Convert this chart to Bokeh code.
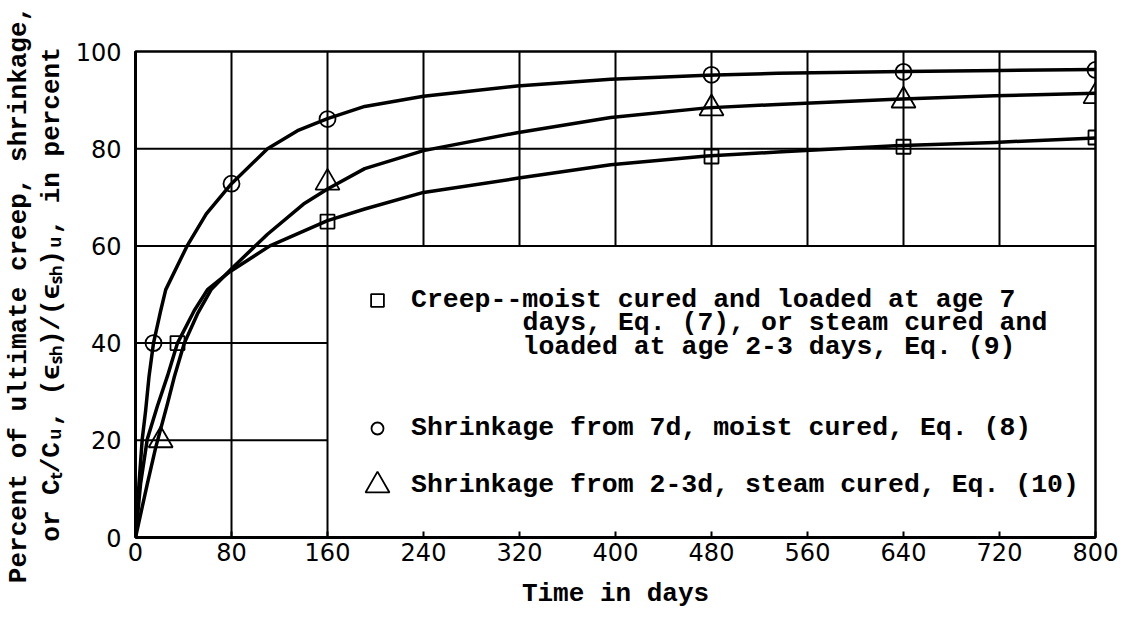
from bokeh.plotting import figure
from bokeh.models import Range1d, FixedTicker, Legend, LegendItem, Label
from bokeh.embed import file_html
from bokeh.resources import INLINE

# ---------------- data ----------------
x_ticks = [0, 80, 160, 240, 320, 400, 480, 560, 640, 720, 800]
y_ticks = [0, 20, 40, 60, 80, 100]

# Creep, Eq. (7) - square symbols
creep_curve_t = [0, 4.2, 9.8, 18.2, 26.6, 35, 49, 60, 78.6, 112, 160, 191, 240, 318, 396, 476, 535, 633, 716, 800]
creep_curve_v = [0, 11, 20.2, 27, 33.2, 40, 46.7, 51, 54.7, 60, 65.2, 67.6, 71, 73.9, 76.7, 78.5, 79.3, 80.6, 81.3, 82.2]
creep_pts_t = [35, 160, 480, 640, 800]
creep_pts_v = [40, 65, 78.4, 80.4, 82.3]

# Shrinkage from 7d, moist cured, Eq. (8) - circle symbols
moist_curve_t = [0, 2.9, 5.6, 8.4, 11.3, 15, 21, 25.2, 43, 59, 80, 110, 135, 160, 191, 240, 318, 396, 476, 535, 640, 720, 800]
moist_curve_v = [0, 11, 20.2, 26, 33.2, 40, 46.7, 51, 60, 66.6, 72.8, 80, 83.7, 86.2, 88.7, 90.8, 92.9, 94.3, 95.1, 95.5, 95.9, 96.1, 96.3]
moist_pts_t = [15, 80, 160, 480, 640, 800]
moist_pts_v = [40, 72.8, 86.1, 95.2, 95.8, 96.2]

# Shrinkage from 2-3d, steam cured, Eq. (10) - triangle symbols
steam_curve_t = [0, 9.8, 16.8, 26.6, 32.3, 40.7, 51.6, 63, 80, 110, 140, 160, 191, 240, 318, 396, 476, 535, 633, 716, 800]
steam_curve_v = [0, 11, 18.5, 27.5, 33, 40, 46, 51, 55.3, 62.4, 68.6, 71.7, 75.9, 79.6, 83.3, 86.4, 88.4, 89.1, 90.2, 90.9, 91.4]
steam_pts_t = [21, 160, 480, 640, 800]
steam_pts_v = [20, 73, 88.3, 89.9, 90.8]

creep_label = ["Creep--moist cured and loaded at age 7",
               "days, Eq. (7), or steam cured and",
               "loaded at age 2-3 days, Eq. (9)"]
moist_label = "Shrinkage from 7d, moist cured, Eq. (8)"
steam_label = "Shrinkage from 2-3d, steam cured, Eq. (10)"

x_label = "Time in days"
y_label = "Percent of ultimate creep, shrinkage,\nor C\u209c/C\u1d64, (\u03f5\u209b\u2095)/(\u03f5\u209b\u2095)\u1d64, in percent"

# legend box (region of the frame kept free of grid lines)
BOX_X = 160
BOX_Y = 60

TYPE_FONT = "Liberation Mono"
NUM_FONT = "DejaVu Sans"
TYPE_SIZE = "26.5px"

# ---------------- figure ----------------
p = figure(width=1119, height=616,
           x_range=Range1d(0, 800), y_range=Range1d(0, 100),
           output_backend="svg", toolbar_location=None,
           min_border_left=133, min_border_right=24,
           min_border_top=51, min_border_bottom=79,
           background_fill_color="white", border_fill_color="white")
p.xgrid.visible = False
p.ygrid.visible = False
p.outline_line_color = "black"
p.outline_line_width = 2.5

# grid lines, interrupted by the legend box
h_y = [y for y in y_ticks if 0 < y < 100]
h_x0 = [0 for _ in h_y]
h_x1 = [800 if y >= BOX_Y else BOX_X for y in h_y]
v_x = [x for x in x_ticks if 0 < x < 800]
v_y0 = [0 if x <= BOX_X else BOX_Y for x in v_x]
v_y1 = [100 for _ in v_x]
p.segment(x0=h_x0, y0=h_y, x1=h_x1, y1=h_y, line_color="black", line_width=2)
p.segment(x0=v_x, y0=v_y0, x1=v_x, y1=v_y1, line_color="black", line_width=2)

# curves
for t, v in ((creep_curve_t, creep_curve_v), (moist_curve_t, moist_curve_v),
             (steam_curve_t, steam_curve_v)):
    p.line(t, v, line_color="black", line_width=3.5, line_join="round", line_cap="round")

# symbols
r_sq = p.scatter(creep_pts_t, creep_pts_v, marker="square", size=14,
                 fill_color=None, line_color="black", line_width=1.8)
r_ci = p.scatter(moist_pts_t, moist_pts_v, marker="circle", size=16,
                 fill_color=None, line_color="black", line_width=1.8)
r_tr = p.scatter(steam_pts_t, steam_pts_v, marker="triangle", size=24,
                 fill_color=None, line_color="black", line_width=1.8)

# axes
p.xaxis.ticker = FixedTicker(ticks=x_ticks)
p.yaxis.ticker = FixedTicker(ticks=y_ticks)
for ax in (p.xaxis[0], p.yaxis[0]):
    ax.axis_line_width = 3
    ax.axis_line_color = "black"
    ax.major_label_text_font = NUM_FONT
    ax.major_label_text_font_size = "24px"
    ax.major_label_text_color = "black"
    ax.minor_tick_line_color = None
    ax.minor_tick_in = 0
    ax.minor_tick_out = 0
    ax.axis_label_text_font = TYPE_FONT
    ax.axis_label_text_font_style = "bold"
    ax.axis_label_text_font_size = "26px"
    ax.axis_label_text_color = "black"
p.yaxis.major_tick_line_color = None
p.yaxis.major_tick_in = 0
p.yaxis.major_tick_out = 0
p.yaxis.major_label_standoff = 14
p.yaxis.axis_label_standoff = 6
p.yaxis.axis_label_text_line_height = 1.1
p.xaxis.major_tick_in = 6
p.xaxis.major_tick_out = 0
p.xaxis.major_tick_line_width = 2
p.xaxis.major_label_standoff = 5
p.xaxis.axis_label_standoff = 15
p.xaxis.axis_label = x_label
p.yaxis.axis_label = y_label


def make_legend(label, renderer, loc, glyph, standoff):
    return Legend(items=[LegendItem(label=label, renderers=[renderer])],
                  location=loc, glyph_width=glyph, glyph_height=glyph,
                  label_standoff=standoff, padding=0, margin=0, spacing=0,
                  border_line_color=None, background_fill_alpha=0,
                  label_text_font=TYPE_FONT, label_text_font_style="bold",
                  label_text_font_size=TYPE_SIZE, label_text_color="black")


p.add_layout(make_legend(creep_label[0], r_sq, (226, 221), 32, 18))
p.add_layout(make_legend(moist_label, r_ci, (227, 94), 30, 19))
p.add_layout(make_legend(steam_label, r_tr, (212, 22), 60, 4))

# continuation lines of the first legend entry
for i, line in enumerate(creep_label[1:]):
    p.add_layout(Label(x=387, y=214.5 - 23.5 * i, x_units="screen", y_units="screen",
                       text=line, text_baseline="middle", text_align="left",
                       text_font=TYPE_FONT, text_font_style="bold",
                       text_font_size=TYPE_SIZE, text_color="black"))

open("out.html", "w").write(file_html(p, INLINE))
